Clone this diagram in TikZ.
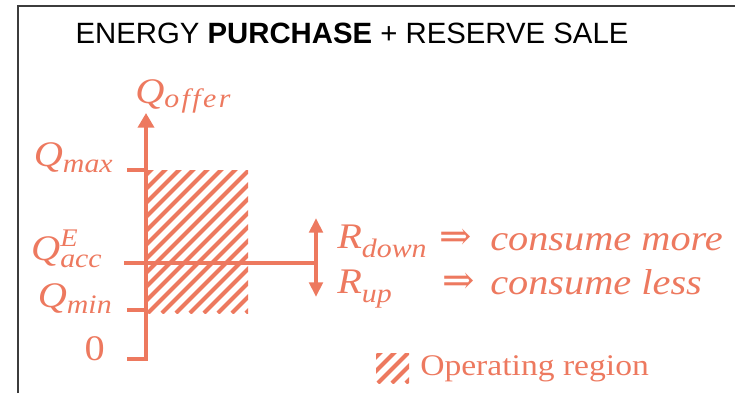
\documentclass[tikz,border=0pt]{standalone}
\usepackage{fontspec}
\setmainfont{Liberation Serif}
\newfontfamily\titlefont{Liberation Sans}
\newfontfamily\varfont[FakeStretch=1.12]{Liberation Serif}
\newfontfamily\symfont{DejaVu Serif}
\usetikzlibrary{arrows.meta}
\definecolor{salmon}{RGB}{237,121,95}
\definecolor{framegray}{RGB}{60,60,60}

% lowered subscript and raised superscript in the variable font
\newcommand\lsub[2][4.5pt]{\raisebox{-#1}{\fontsize{20}{20}\selectfont #2}}
\newcommand\hsup[1]{\rlap{\raisebox{10.5pt}{\fontsize{19}{19}\selectfont #1}}}

\begin{document}
\begin{tikzpicture}[x=0.75pt,y=-0.75pt,
  axisline/.style={draw=salmon,line width=3pt},
  varlabel/.style={text=salmon,inner sep=0pt,
    font=\varfont\itshape\fontsize{27}{27}\selectfont},
  legendtext/.style={text=salmon,inner sep=0pt,
    font=\varfont\fontsize{22.5}{22.5}\selectfont},
  implies/.style={text=salmon,inner sep=0pt,font=\symfont\fontsize{29}{29}\selectfont},
  hatchline/.style={draw=salmon,line width=3pt},
  bigtip/.style={-{Triangle[length=11pt,width=12pt]}},
  smalltip/.style={{Triangle[length=11pt,width=10pt]}-{Triangle[length=11pt,width=10pt]}}]
\useasboundingbox (0,0) rectangle (735,393);

% frame
\draw[framegray,line width=1.5pt] (18,393) -- (18,6) -- (735,6);

% title
\node[inner sep=0pt,anchor=base,font=\titlefont\fontsize{22}{22}\selectfont] (title)
  at (352,43) {ENERGY \textbf{PURCHASE} + RESERVE SALE};

% operating region hatching
\begin{scope}
  \clip (148,170) rectangle (248,313);
  \foreach \s in {-140,-126,...,100}
    \draw[hatchline] (148+\s,313) -- ++(150,-150);
\end{scope}

% axis points
\coordinate (zero) at (146,359);
\coordinate (zerotick) at (127,359);
\coordinate (axistop) at (146,113);
\coordinate (maxtick) at (127,170);
\coordinate (maxaxis) at (146,170);
\coordinate (mintick) at (127,310);
\coordinate (minaxis) at (146,310);
\coordinate (acctick) at (124,263);
\coordinate (rjoin) at (316,263);
\coordinate (rtop) at (316,218);
\coordinate (rbottom) at (316,297);

% axis with ticks
\draw[axisline,bigtip] (zerotick) -- (zero) -- (axistop);
\draw[axisline] (maxtick) -- (maxaxis);
\draw[axisline] (mintick) -- (minaxis);
\draw[axisline] (acctick) -- (rjoin);
\draw[axisline,smalltip] (rtop) -- (rbottom);

% axis labels
\node[varlabel,anchor=base west] (qoffer) at (135,103)
  {Q\lsub[3.5pt]{\addfontfeatures{LetterSpace=9}offer}};
\node[varlabel,anchor=base east] (qmax) at (113,166) {Q\lsub{max}};
\node[varlabel,anchor=base east] (qacc) at (102,260) {Q\hsup{E}\lsub[5.5pt]{acc}};
\node[varlabel,anchor=base east] (qmin) at (112,307) {Q\lsub{min}};
\node[varlabel,anchor=base east] (qzero) at (105,360) {\upshape 0};

% reserve labels
\node[varlabel,anchor=base west] (rdown) at (337,248) {R\lsub[7pt]{down}};
\node[varlabel,anchor=base west] (rup) at (337,293) {R\lsub[7pt]{up}};
\node[implies] (imp1) at (456,239) {⇒};
\node[implies] (imp2) at (459,283) {⇒};
\node[varlabel,anchor=base west] (more) at (490,250) {consume more};
\node[varlabel,anchor=base west] (less) at (490,294) {consume less};

% legend
\begin{scope}
  \clip (376,353) rectangle (409,383);
  \foreach \s in {-40,-26,...,40}
    \draw[hatchline] (376+\s,383) -- ++(40,-40);
\end{scope}
\node[legendtext,anchor=base west] (legend) at (420,375) {Operating region};
\end{tikzpicture}
\end{document}
